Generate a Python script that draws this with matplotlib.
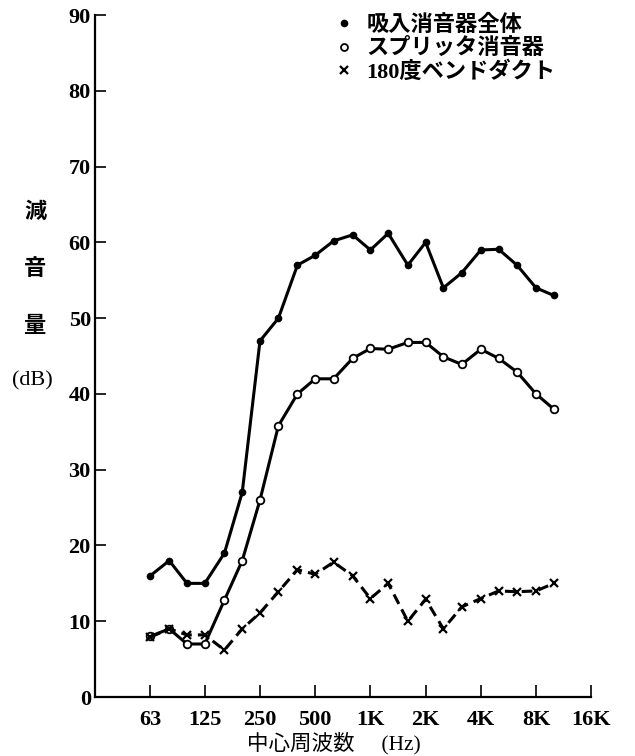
import matplotlib.pyplot as plt
from matplotlib.lines import Line2D
from matplotlib.ticker import FixedLocator, FixedFormatter, NullLocator

plt.rcParams['font.family'] = ['Liberation Serif', 'Noto Sans CJK JP']

# 1/3 octave band centre frequencies (Hz)
freqs = [63, 80, 100, 125, 160, 200, 250, 315, 400, 500, 630, 800,
         1000, 1250, 1600, 2000, 2500, 3150, 4000, 5000, 6300, 8000, 10000]

# attenuation (dB)
whole_silencer = [16, 18, 15, 15, 19, 27, 47, 50, 57, 58.3, 60.2, 61,
                  59, 61.2, 57, 60, 54, 56, 59, 59.1, 57, 54, 53]
splitter = [8, 9, 7, 7, 12.8, 18, 26, 35.8, 40, 42, 42, 44.7,
            46, 45.9, 46.8, 46.8, 44.9, 43.9, 45.9, 44.7, 42.9, 40, 38]
bend_duct = [7.9, 9, 8.2, 8.2, 6.2, 9, 11.1, 13.9, 16.8, 16.2, 17.8, 16,
             13, 15, 10, 12.9, 9, 11.9, 13, 14, 13.9, 14, 15]

xtick_vals = [63, 125, 250, 500, 1000, 2000, 4000, 8000, 16000]
xtick_labels = ['63', '125', '250', '500', '1K', '2K', '4K', '8K', '16K']
ytick_vals = list(range(0, 100, 10))

legend_labels = ['吸入消音器全体', 'スプリッタ消音器', '180度ベンドダクト']

fig = plt.figure(figsize=(6.35, 7.56), dpi=100)
ax = fig.add_axes([0.1496, 0.078, 0.7815, 0.902])

ax.plot(freqs, whole_silencer, color='black', lw=2.2, marker='o',
        markersize=4.5, markerfacecolor='black', markeredgecolor='black')
ax.plot(freqs, splitter, color='black', lw=2.2, marker='o', markersize=5.5,
        markerfacecolor='white', markeredgecolor='black', markeredgewidth=1.3)
ax.plot(freqs, bend_duct, color='black', lw=2.2, linestyle=(0, (3.5, 2)),
        marker='x', markersize=6, markeredgewidth=1.6)

ax.set_xscale('log', base=2)
ax.set_xlim(31.5, 16000)
ax.set_ylim(0, 90)

ax.xaxis.set_major_locator(FixedLocator(xtick_vals))
ax.xaxis.set_major_formatter(FixedFormatter(xtick_labels))
ax.xaxis.set_minor_locator(NullLocator())
ax.yaxis.set_major_locator(FixedLocator(ytick_vals))

for side in ['top', 'right']:
    ax.spines[side].set_visible(False)
for side in ['left', 'bottom']:
    ax.spines[side].set_linewidth(1.6)

ax.tick_params(axis='x', direction='in', length=9, width=1.2, pad=9,
               labelsize=16)
ax.tick_params(axis='y', direction='in', length=8, width=1.2, pad=3,
               labelsize=16)
for lab in ax.get_xticklabels() + ax.get_yticklabels():
    lab.set_fontweight('bold')

# stacked y label
for txt, ypix in zip(['減', '音', '量'], [213, 270, 327]):
    fig.text(35 / 635, 1 - ypix / 756, txt, ha='center', va='center',
             fontsize=16, fontweight='bold')
fig.text(32 / 635, 1 - 381 / 756, '(dB)', ha='center', va='center',
         fontsize=16)

fig.text(334 / 635, 1 - 743 / 756, '中心周波数　 (Hz)', ha='center',
         va='center', fontsize=15.5)

handles = [
    Line2D([], [], linestyle='none', marker='o', markersize=4.5,
           color='black'),
    Line2D([], [], linestyle='none', marker='o', markersize=5,
           markerfacecolor='white', markeredgecolor='black',
           markeredgewidth=1.3),
    Line2D([], [], linestyle='none', marker='x', markersize=5.5,
           markeredgewidth=1.6, color='black'),
]
leg = fig.legend(handles, legend_labels, loc='upper left',
                 bbox_to_anchor=(335 / 635, 1 - 15 / 756), frameon=False,
                 fontsize=16, handlelength=0.8, handletextpad=0.6,
                 labelspacing=0.1, borderaxespad=0, borderpad=0)
for t in leg.get_texts():
    t.set_fontweight('bold')

fig.savefig('out.png', dpi=100)
